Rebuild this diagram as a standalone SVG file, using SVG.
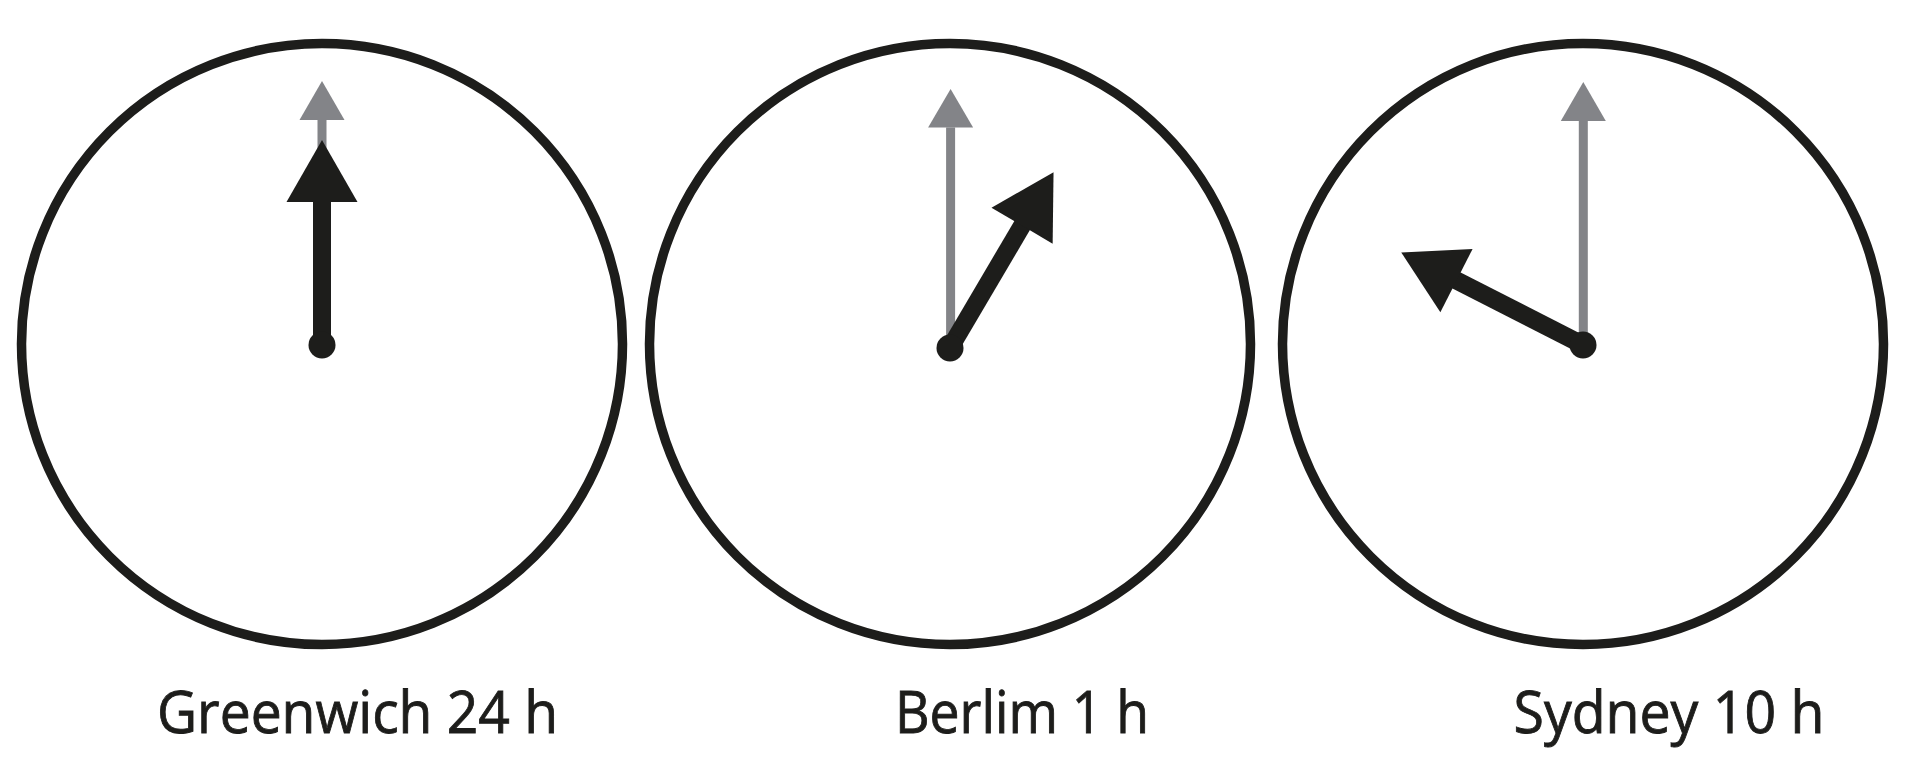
<svg xmlns="http://www.w3.org/2000/svg" width="1920" height="757" viewBox="0 0 1920 757">
<defs>
<style>
.face{fill:#ffffff;stroke:#1d1d1b;stroke-width:9.5}
.minute{fill:#838488}
.hour{fill:#1d1d1b}
.label{font-family:"Open Sans","Noto Sans","Liberation Sans",sans-serif;font-size:59px;fill:#1d1d1b;stroke:#1d1d1b;stroke-width:0.9}
</style>
<g id="minuteHand">
<rect x="-4.5" y="-224" width="9" height="224"/>
<polygon points="0,-263 22.5,-224 -22.5,-224"/>
</g>
<g id="hourHand">
<rect x="-9" y="-143" width="18" height="143"/>
<polygon points="0,-204 35.5,-142 -35.5,-142"/>
</g>
</defs>
<rect width="1920" height="757" fill="#ffffff"/>
<g id="clock-greenwich">
<circle class="face" cx="322" cy="344" r="300.5"/>
<use href="#minuteHand" class="minute" transform="translate(322,344)"/>
<use href="#hourHand" class="hour" transform="translate(322,344)"/>
<circle class="hour" cx="322" cy="345" r="13.5"/>
<text class="label" x="157" y="733" textLength="401" lengthAdjust="spacingAndGlyphs">Greenwich 24 h</text>
</g>
<g id="clock-berlim">
<circle class="face" cx="950" cy="344" r="300.5"/>
<use href="#minuteHand" class="minute" transform="translate(950.6,348) scale(1,0.9847)"/>
<use href="#hourHand" class="hour" transform="translate(950,348) rotate(30.5)"/>
<circle class="hour" cx="950" cy="348" r="13.5"/>
<text class="label" x="895" y="733" textLength="254" lengthAdjust="spacingAndGlyphs">Berlim 1 h</text>
</g>
<g id="clock-sydney">
<circle class="face" cx="1583" cy="344" r="300.5"/>
<use href="#minuteHand" class="minute" transform="translate(1583.3,345)"/>
<use href="#hourHand" class="hour" transform="translate(1583,345) rotate(-63)"/>
<circle class="hour" cx="1583" cy="345" r="13.5"/>
<text class="label" x="1513.5" y="733" textLength="311" lengthAdjust="spacingAndGlyphs">Sydney 10 h</text>
</g>
</svg>
